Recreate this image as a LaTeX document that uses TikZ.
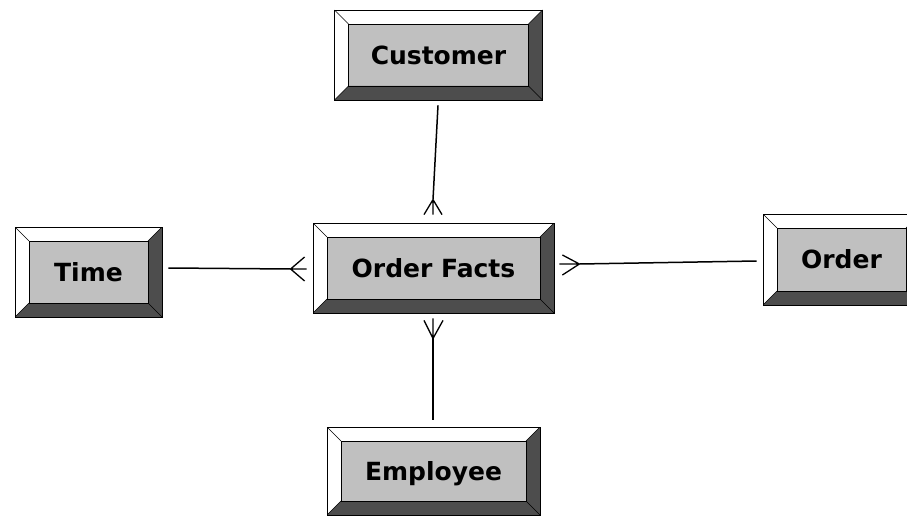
\documentclass[tikz,border=0pt]{standalone}
\usepackage{fontspec}
\newfontfamily\boxfont{DejaVu Sans}
\usetikzlibrary{calc}
\definecolor{facegray}{HTML}{C0C0C0}
\definecolor{shadegray}{HTML}{4D4D4D}
\tikzset{
  % raised, bevelled entity box
  bevelbox/.style n args={2}{
    rectangle, draw=black, line width=0.8pt, fill=facegray, inner sep=0pt,
    minimum width=#1, minimum height=#2,
    font=\boxfont\bfseries\fontsize{25}{30}\selectfont,
    text height=18.2pt, text depth=0pt,
    path picture={
      \coordinate (SW) at (path picture bounding box.south west);
      \coordinate (NE) at (path picture bounding box.north east);
      \coordinate (NW) at (SW |- NE);
      \coordinate (SE) at (NE |- SW);
      \coordinate (sw) at ($(SW)+(14pt,14pt)$);
      \coordinate (ne) at ($(NE)+(-14pt,-14pt)$);
      \coordinate (nw) at (sw |- ne);
      \coordinate (se) at (ne |- sw);
      \fill[white] (SW) -- (NW) -- (NE) -- (ne) -- (nw) -- (sw) -- cycle;
      \fill[shadegray] (SW) -- (SE) -- (NE) -- (ne) -- (se) -- (sw) -- cycle;
      \draw[black, line width=0.9pt] (sw) rectangle (ne);
      \draw[black, line width=0.6pt] (SW) -- (sw) (NW) -- (nw) (NE) -- (ne) (SE) -- (se);
    }
  },
  link/.style={draw=black, line width=1.5pt},
  foot/.style={draw=black, line width=1.3pt}
}
\begin{document}
\begin{tikzpicture}[x=1pt, y=-1pt]
  \useasboundingbox (0,0) rectangle (907,516);
  \clip (0,0) rectangle (907,516);

  % entities
  \node[bevelbox={208pt}{90pt}] (Customer)   at (438.5,55)  {Customer};
  \node[bevelbox={241pt}{90pt}] (OrderFacts) at (433.5,268) {Order Facts};
  \node[bevelbox={147pt}{90pt}] (Time)       at (88.5,272)  {Time};
  \node[bevelbox={157pt}{91pt}] (Order)      at (841.5,259.5) {Order};
  \node[bevelbox={213pt}{88pt}] (Employee)   at (433.5,471) {Employee};

  % Customer -> Order Facts (many end at Order Facts)
  \coordinate (cu0) at ($(Customer.south)+(-0.5,5)$);
  \coordinate (cu1) at ($(OrderFacts.north)+(-0.5,-23)$);
  \draw[link] (cu0) -- (cu1);
  \draw[foot] (cu1) -- ++(-9,15) (cu1) -- ++(0,15) (cu1) -- ++(9,15);

  % Time -> Order Facts
  \coordinate (ti0) at ($(Time.east)+(6,-4)$);
  \coordinate (ti1) at ($(OrderFacts.west)+(-22,1)$);
  \draw[link] (ti0) -- (ti1);
  \draw[foot] (ti1) -- ++(14,-12) (ti1) -- ++(16,0) (ti1) -- ++(14,12);

  % Order -> Order Facts
  \coordinate (or0) at ($(Order.west)+(-6,1.5)$);
  \coordinate (or1) at ($(OrderFacts.east)+(25,-4)$);
  \draw[link] (or0) -- (or1);
  \draw[foot] (or1) -- ++(-17,-9) (or1) -- ++(-20,0) (or1) -- ++(-17,11);

  % Employee -> Order Facts
  \coordinate (em0) at ($(Employee.north)+(-0.5,-7)$);
  \coordinate (em1) at ($(OrderFacts.south)+(-0.5,25)$);
  \draw[link] (em0) -- (em1);
  \draw[foot] (em1) -- ++(-9,-18) (em1) -- ++(0,-20) (em1) -- ++(10,-18);
\end{tikzpicture}
\end{document}
